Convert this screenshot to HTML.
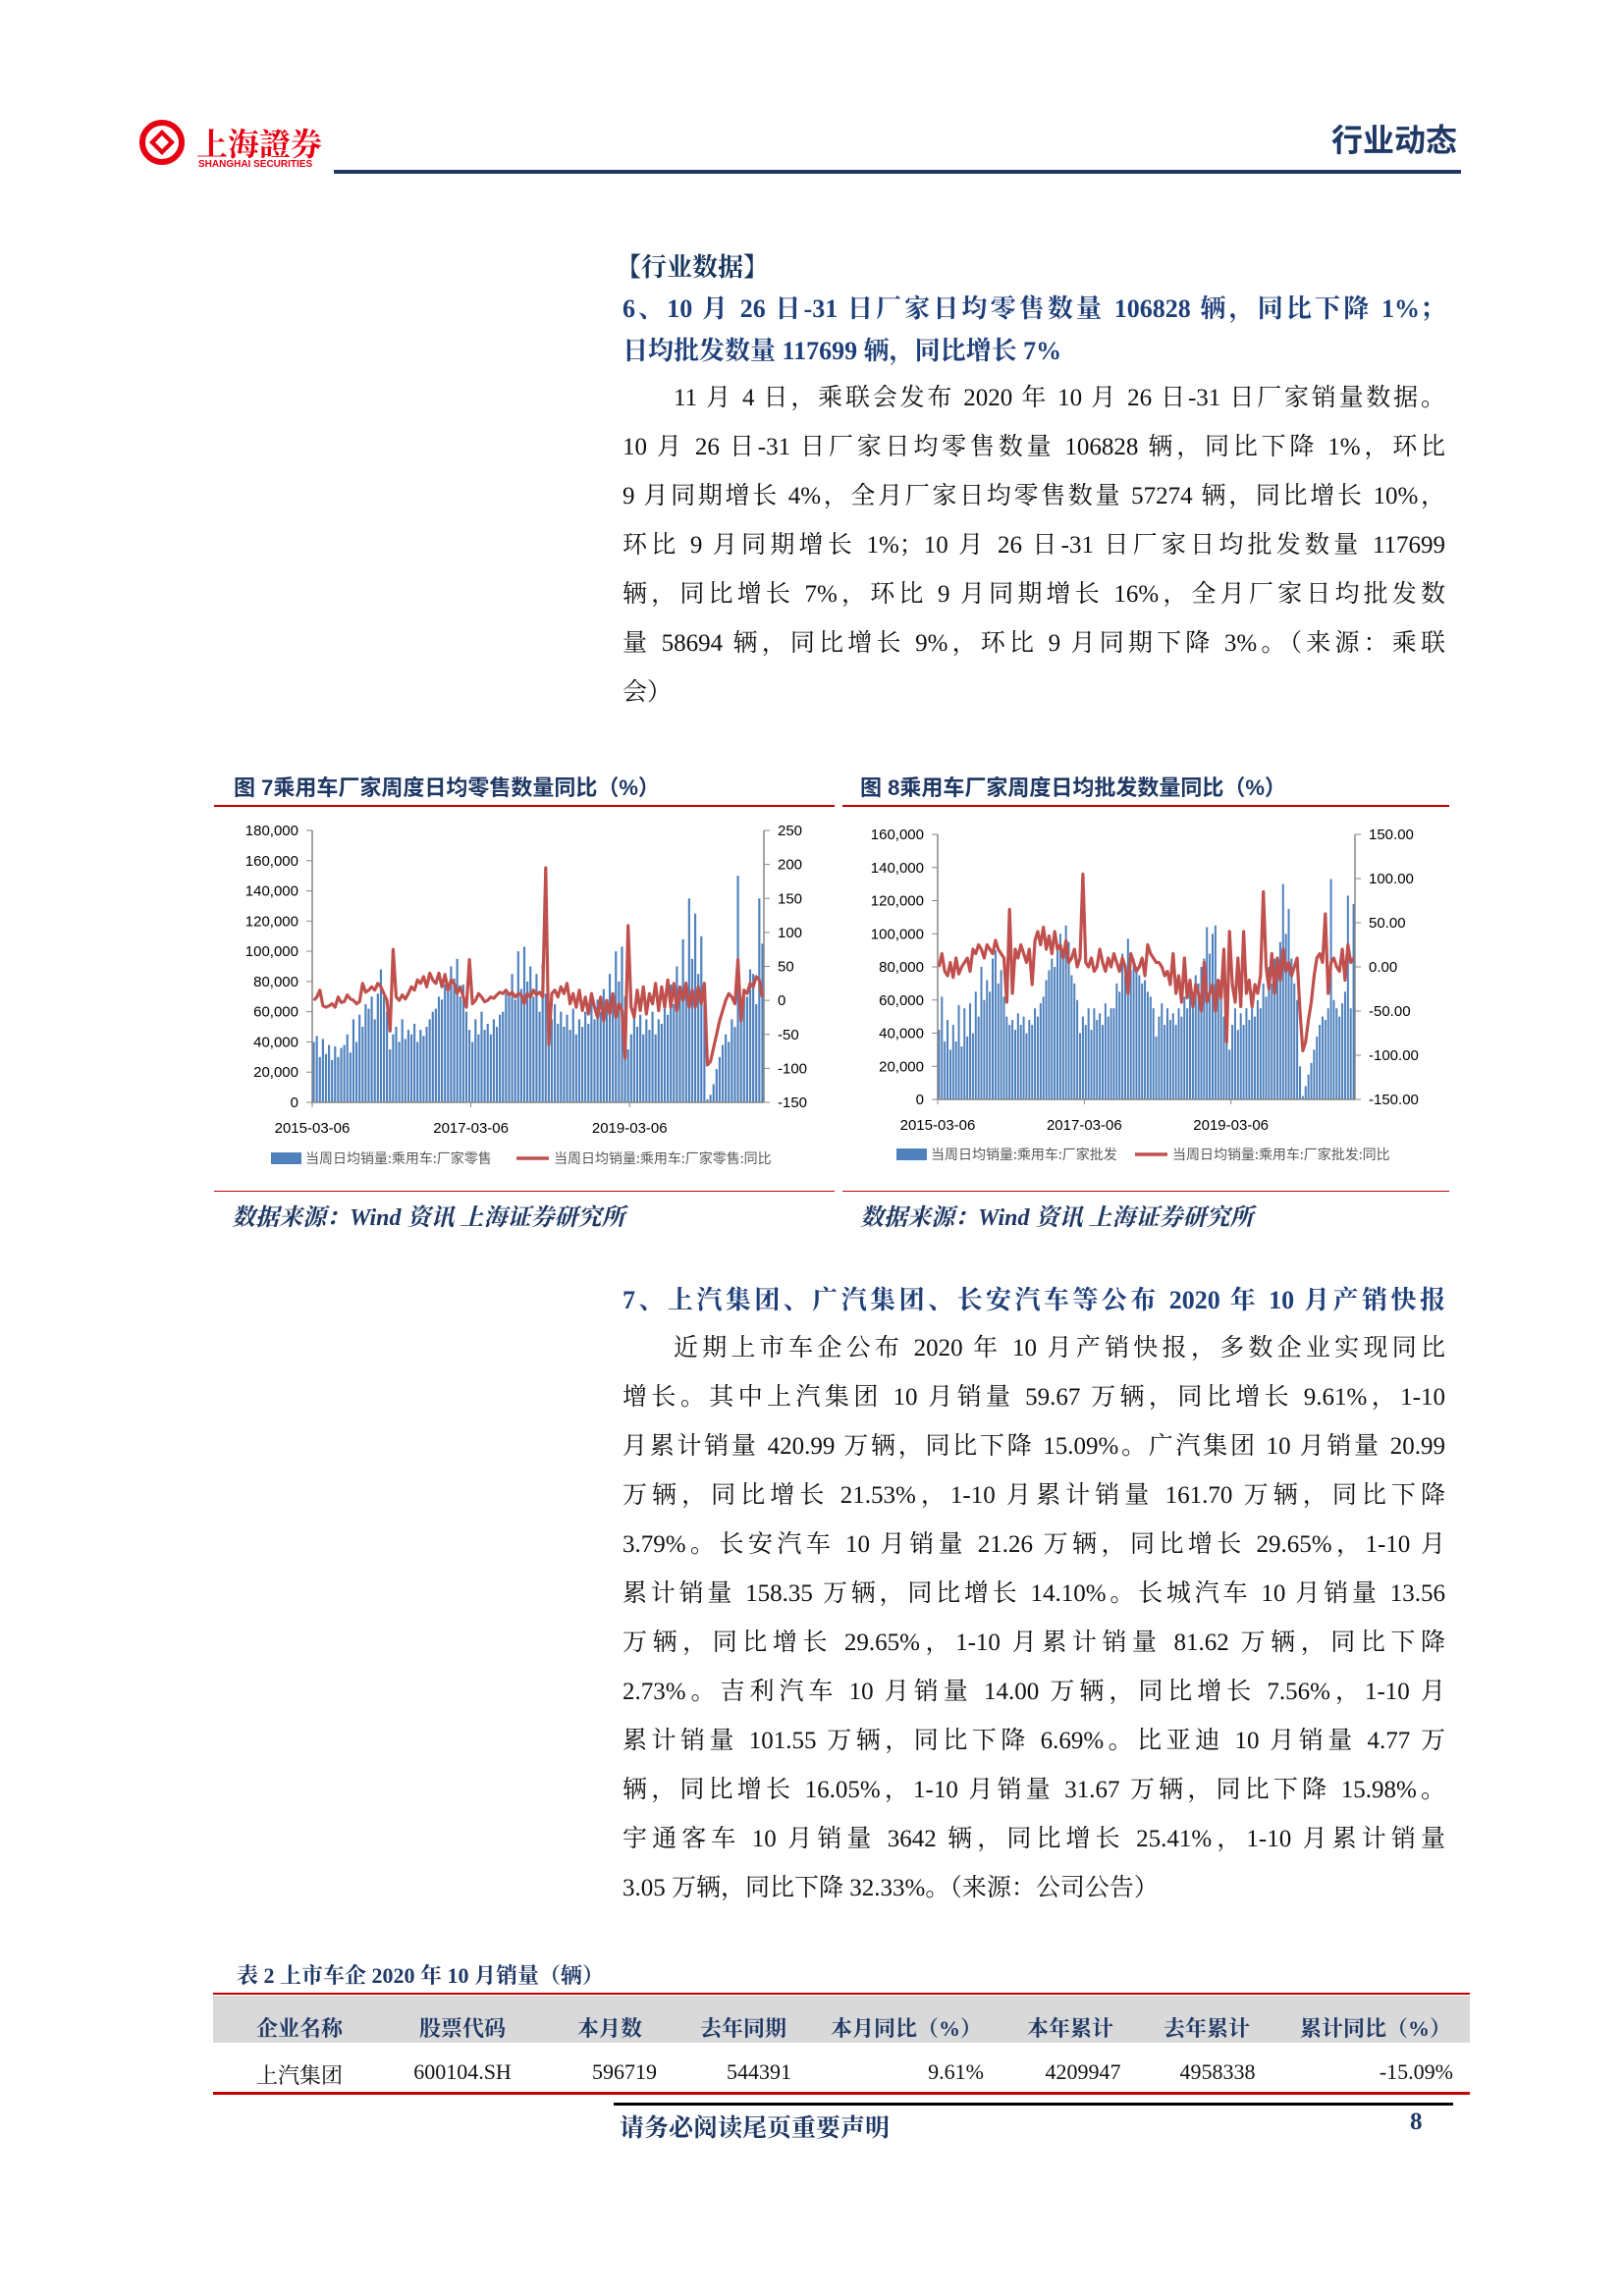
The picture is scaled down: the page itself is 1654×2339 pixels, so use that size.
<!DOCTYPE html>
<html><head><meta charset="utf-8">
<style>
body{margin:0;width:1654px;height:2339px;background:#fff;position:relative;overflow:hidden;font-family:"Liberation Serif","Noto Serif CJK SC",serif;}
.a{position:absolute;white-space:nowrap;}
.blue{color:#1f3b73;}
.body{position:absolute;left:634px;width:838px;font-size:25px;color:#111;line-height:50px;}
.ln{text-align:justify;text-align-last:justify;white-space:nowrap;height:50px;}
.ln.l{text-align-last:left;}
.hd{font-weight:bold;color:#1f3f7a;}
.ct{font-family:"Liberation Sans","Noto Sans CJK SC",sans-serif;font-weight:bold;color:#1f3864;font-size:22px;}
.src{font-weight:bold;font-style:italic;color:#1f3864;font-size:24px;font-family:"Liberation Serif","Noto Serif CJK SC",serif;}
.rl{position:absolute;height:2px;background:#c00000;}
</style></head><body>
<div class="a" style="left:138px;top:118px;width:200px;height:60px;">
<svg width="200" height="60"><circle cx="27" cy="27" r="20" fill="none" stroke="#e60012" stroke-width="6"/><path d="M14 27 L27 14 L40 27 L27 40Z" fill="#e60012"/><path d="M20 27 L27 20 L34 27 L27 34Z" fill="#fff"/></svg>
<div class="a" style="left:62px;top:4px;font-size:32px;font-weight:bold;color:#e60012;font-family:'Noto Serif CJK SC',serif;">上海證券</div>
<div class="a" style="left:64px;top:44px;font-size:10px;font-weight:bold;color:#e60012;font-family:'Liberation Sans',sans-serif;">SHANGHAI SECURITIES</div>
</div>
<div class="a blue" style="right:170px;top:118px;font-size:32px;font-weight:bold;color:#1f3864;font-family:'Noto Sans CJK SC',sans-serif;">行业动态</div>
<div class="a" style="left:340px;top:173px;width:1148px;height:4px;background:#1f3864;"></div>

<div class="a hd" style="left:627px;top:252px;font-size:26px;color:#17365d;">【行业数据】</div>
<div class="body" style="top:290px;font-size:26px;">
<div class="ln hd">6、10 月 26 日-31 日厂家日均零售数量 106828 辆，同比下降 1%；</div>
<div class="ln hd l" style="margin-top:-7px;">日均批发数量 117699 辆，同比增长 7%</div>
</div>
<div class="body" style="top:381px;">
<div class="ln" style="padding-left:52px;">11 月 4 日，乘联会发布 2020 年 10 月 26 日-31 日厂家销量数据。</div>
<div class="ln">10 月 26 日-31 日厂家日均零售数量 106828 辆，同比下降 1%，环比</div>
<div class="ln">9 月同期增长 4%，全月厂家日均零售数量 57274 辆，同比增长 10%，</div>
<div class="ln">环比 9 月同期增长 1%；10 月 26 日-31 日厂家日均批发数量 117699</div>
<div class="ln">辆，同比增长 7%，环比 9 月同期增长 16%，全月厂家日均批发数</div>
<div class="ln">量 58694 辆，同比增长 9%，环比 9 月同期下降 3%。（来源：乘联</div>
<div class="ln l">会）</div>
</div>

<div class="a ct" style="left:238px;top:785px;">图 7乘用车厂家周度日均零售数量同比（%）</div>
<div class="a ct" style="left:876px;top:785px;">图 8乘用车厂家周度日均批发数量同比（%）</div>
<div class="rl" style="left:218px;top:820px;width:632px;"></div>
<div class="rl" style="left:858px;top:820px;width:618px;"></div>
<div class="rl" style="left:218px;top:1213px;width:632px;height:1px;"></div>
<div class="rl" style="left:858px;top:1213px;width:618px;height:1px;"></div>
<div class="a src" style="left:236px;top:1220px;">数据来源：Wind 资讯 上海证券研究所</div>
<div class="a src" style="left:876px;top:1220px;">数据来源：Wind 资讯 上海证券研究所</div>

<svg id="chart1" class="a" style="left:218px;top:830px;" width="640" height="380"></svg>
<svg id="chart2" class="a" style="left:865px;top:830px;" width="625" height="380"></svg>

<div class="body" style="top:1300px;font-size:26px;">
<div class="ln hd">7、上汽集团、广汽集团、长安汽车等公布 2020 年 10 月产销快报</div>
</div>
<div class="body" style="top:1349px;">
<div class="ln" style="padding-left:52px;">近期上市车企公布 2020 年 10 月产销快报，多数企业实现同比</div>
<div class="ln">增长。其中上汽集团 10 月销量 59.67 万辆，同比增长 9.61%，1-10</div>
<div class="ln">月累计销量 420.99 万辆，同比下降 15.09%。广汽集团 10 月销量 20.99</div>
<div class="ln">万辆，同比增长 21.53%，1-10 月累计销量 161.70 万辆，同比下降</div>
<div class="ln">3.79%。长安汽车 10 月销量 21.26 万辆，同比增长 29.65%，1-10 月</div>
<div class="ln">累计销量 158.35 万辆，同比增长 14.10%。长城汽车 10 月销量 13.56</div>
<div class="ln">万辆，同比增长 29.65%，1-10 月累计销量 81.62 万辆，同比下降</div>
<div class="ln">2.73%。吉利汽车 10 月销量 14.00 万辆，同比增长 7.56%，1-10 月</div>
<div class="ln">累计销量 101.55 万辆，同比下降 6.69%。比亚迪 10 月销量 4.77 万</div>
<div class="ln">辆，同比增长 16.05%，1-10 月销量 31.67 万辆，同比下降 15.98%。</div>
<div class="ln">宇通客车 10 月销量 3642 辆，同比增长 25.41%，1-10 月累计销量</div>
<div class="ln l">3.05 万辆，同比下降 32.33%。（来源：公司公告）</div>
</div>

<div class="a ct" style="left:241px;top:1996px;font-family:'Liberation Serif','Noto Serif CJK SC',serif;">表 2 上市车企 2020 年 10 月销量（辆）</div>
<div class="a" style="left:217px;top:2030px;width:1280px;height:2px;background:#c00000;"></div>
<div class="a" style="left:217px;top:2033px;width:1280px;height:48px;background:#d9d9d9;"></div>
<div style="font-weight:bold;color:#1f3864;font-size:22px;">
<div class="a" style="left:255px;top:2050px;width:100px;text-align:center;">企业名称</div>
<div class="a" style="left:421px;top:2050px;width:100px;text-align:center;">股票代码</div>
<div class="a" style="left:571px;top:2050px;width:100px;text-align:center;">本月数</div>
<div class="a" style="left:707px;top:2050px;width:100px;text-align:center;">去年同期</div>
<div class="a" style="left:846px;top:2050px;width:140px;text-align:center;">本月同比（%）</div>
<div class="a" style="left:1040px;top:2050px;width:100px;text-align:center;">本年累计</div>
<div class="a" style="left:1179px;top:2050px;width:100px;text-align:center;">去年累计</div>
<div class="a" style="left:1324px;top:2050px;width:140px;text-align:center;">累计同比（%）</div>
</div>
<div style="font-size:22px;color:#111;">
<div class="a" style="left:255px;top:2098px;width:100px;text-align:center;">上汽集团</div>
<div class="a" style="left:411px;top:2098px;width:120px;text-align:center;">600104.SH</div>
<div class="a" style="left:586px;top:2098px;width:100px;text-align:center;">596719</div>
<div class="a" style="left:723px;top:2098px;width:100px;text-align:center;">544391</div>
<div class="a" style="left:902px;top:2098px;width:100px;text-align:right;">9.61%</div>
<div class="a" style="left:1053px;top:2098px;width:100px;text-align:center;">4209947</div>
<div class="a" style="left:1190px;top:2098px;width:100px;text-align:center;">4958338</div>
<div class="a" style="left:1380px;top:2098px;width:100px;text-align:right;">-15.09%</div>
</div>
<div class="a" style="left:217px;top:2131px;width:1280px;height:3px;background:#c00000;"></div>
<div class="a" style="left:625px;top:2142px;width:855px;height:3px;background:#000;"></div>
<div class="a" style="left:631px;top:2148px;font-size:25px;font-weight:bold;color:#1f3864;">请务必阅读尾页重要声明</div>
<div class="a" style="left:1436px;top:2148px;font-size:25px;font-weight:bold;color:#1f3864;">8</div>

<script>
const dateLabels = ["2015-03-06","2017-03-06","2019-03-06"];
const dateIdx = [0,52,104];
const leftTicks1 = [0,20000,40000,60000,80000,100000,120000,140000,160000,180000];
const rightTicks1 = [-150,-100,-50,0,50,100,150,200,250];
const leftTicks2 = [0,20000,40000,60000,80000,100000,120000,140000,160000];
const rightTicks2 = [-150,-100,-50,0,50,100,150];
const retailK = [40,44,30,42,32,38,28,37,30,36,38,45,33,55,40,58,50,65,62,70,55,72,88,70,60,35,
45,50,40,55,42,48,45,52,40,48,44,50,55,60,62,70,68,78,74,90,82,95,70,78,60,48,
40,55,45,60,48,52,45,55,50,58,60,72,70,85,68,100,75,103,80,90,70,85,60,92,72,40,
55,65,52,60,50,58,48,62,45,55,50,60,52,70,55,68,60,75,65,85,70,100,80,103,70,35,
45,62,50,58,45,55,48,60,45,55,52,62,58,78,65,90,70,108,80,135,95,125,85,110,65,2,
5,12,22,30,38,45,40,55,50,150,60,75,70,88,85,65,135,105];
const retailYoY = [0,5,15,-8,-10,-8,-5,-10,5,-3,-2,8,2,0,-5,-2,25,12,15,20,15,25,20,10,0,-45,
75,5,0,8,2,10,20,15,30,25,35,20,40,30,25,40,20,38,15,30,25,10,20,5,-10,60,
-5,0,10,5,-2,0,5,3,8,12,10,15,8,12,5,10,8,-5,10,5,15,8,12,5,195,-65,
10,15,5,20,10,25,-5,10,-10,15,-15,5,-20,10,-10,-25,5,-30,0,-20,10,-25,-5,-15,-85,110,
-10,-25,15,-15,20,-20,10,-5,25,-15,20,-10,30,-10,25,-15,20,0,25,-10,15,-10,20,-5,25,-95,
-90,-70,-50,-30,-15,0,10,5,-5,60,-30,15,10,25,20,35,30,5];
const wholesaleK = [42,62,35,48,30,45,35,57,32,55,38,58,40,65,50,80,60,72,65,85,90,70,78,62,50,45,
48,42,52,45,50,40,48,45,55,50,58,62,72,78,85,80,90,100,88,105,95,75,70,60,40,50,
45,55,42,55,48,52,45,58,50,55,55,70,65,88,75,97,78,85,80,75,70,72,65,62,55,38,
50,58,45,55,48,52,45,55,50,62,55,65,60,75,70,80,85,104,88,100,105,65,72,50,40,30,
45,55,42,52,45,55,48,58,50,60,55,70,62,80,70,85,78,95,130,100,115,85,70,60,20,2,
8,15,22,30,38,45,50,48,55,133,60,55,50,58,65,123,55,118];
const wholesaleYoY = [0,15,-5,-10,5,-12,10,-8,0,5,10,-5,20,15,25,20,10,25,20,15,30,20,15,10,-40,65,
-30,20,10,25,15,5,20,-20,30,40,25,45,20,35,15,40,20,25,10,30,5,10,20,0,10,105,
5,0,10,-5,0,20,5,-5,10,0,15,5,-5,10,0,-30,15,5,-5,0,10,-10,25,15,10,5,
5,0,-10,-5,-20,15,-30,-10,-40,10,-35,-15,-45,-20,-30,-50,5,-40,-30,-20,-50,-15,-35,20,-85,40,
-20,-40,10,-45,40,-30,-15,-45,-20,-30,-10,85,0,-25,15,-30,10,-15,20,-5,5,-10,0,10,-50,-95,
-85,-60,-40,-10,10,15,5,60,-30,5,10,0,-5,20,-15,25,5,10];

const NS="http://www.w3.org/2000/svg";
function mk(tag,attrs,parent){const e=document.createElementNS(NS,tag);for(const k in attrs)e.setAttribute(k,attrs[k]);parent.appendChild(e);return e;}
function fmt(v){return v.toString().replace(/\B(?=(\d{3})+(?!\d))/g,",");}
function draw(svg,c){
  const L=c.L,R=c.R,T=c.T,B=c.B;
  const n=c.bars.length, step=(R-L)/n;
  const yl=v=>B-(v/c.lmax)*(B-T);
  const yr=v=>B-((v-c.rmin)/(c.rmax-c.rmin))*(B-T);
  const xi=i=>L+(i+0.5)*step;
  const f="font-family:'Liberation Sans',sans-serif;font-size:15px;fill:#000";
  c.lt.forEach(v=>{
    const y=yl(v);
    const t=mk("line",{x1:L-6,x2:L,y1:y,y2:y,stroke:"#868686"},svg);
    
    
    const tx=mk("text",{x:L-14,y:y+5,"text-anchor":"end",style:f},svg);
    tx.textContent=fmt(v);
    
    
  });
  c.rt.forEach(v=>{
    const y=yr(v);
    const t=mk("line",{x1:R,x2:R+6,y1:y,y2:y,stroke:"#868686"},svg);
    
    
    const tx=mk("text",{x:R+14,y:y+5,style:f},svg);
    tx.textContent=c.rfmt(v);
    
    
  });
  c.bars.forEach((v,i)=>{
    const y=yl(v*1000);
    const r=mk("rect",{x:xi(i)-step*0.35,y:y,width:step*0.7,height:B-y,fill:"#4f81bd"},svg);
    
    
  });
  const ax=mk("path",{d:`M${L} ${T} V${B} H${R} M${R} ${T} V${B}`,stroke:"#868686",fill:"none","stroke-width":1.5},svg);
  
  
  dateIdx.forEach((d,k)=>{
    const x=L+d*step;
    const t=mk("line",{x1:x,x2:x,y1:B,y2:B+5,stroke:"#868686"},svg);
    
    
    const tx=mk("text",{x:x,y:B+31,"text-anchor":"middle",style:f},svg);
    tx.textContent=dateLabels[k];
    
    
  });
  const pts=c.line.map((v,i)=>`${xi(i).toFixed(1)},${yr(v).toFixed(1)}`).join(" ");
  const pl=mk("polyline",{points:pts,fill:"none",stroke:"#c0504d","stroke-width":3.2,"stroke-linejoin":"round"},svg);
  
  
  const lf="font-family:'Noto Sans CJK SC',sans-serif;font-size:14px;fill:#595959";
  const lb=mk("rect",{x:c.lg[0],y:c.ly-6,width:31,height:12,fill:"#4f81bd"},svg);
  
  
  const lt1=mk("text",{x:c.lg[0]+35,y:c.ly+5,style:lf},svg);
  lt1.textContent=c.n1;
  
  
  const ll=mk("line",{x1:c.lg[1],x2:c.lg[1]+33,y1:c.ly,y2:c.ly,stroke:"#c0504d","stroke-width":3.5},svg);
  
  
  const lt2=mk("text",{x:c.lg[1]+38,y:c.ly+5,style:lf},svg);
  lt2.textContent=c.n2;
  
  
}
draw(document.getElementById("chart1"),{L:100,R:560,T:16,B:293,lmax:180000,rmin:-150,rmax:250,
  lt:leftTicks1,rt:rightTicks1,rfmt:v=>String(v),bars:retailK,line:retailYoY,ly:350,lg:[58,308],
  n1:"当周日均销量:乘用车:厂家零售",n2:"当周日均销量:乘用车:厂家零售:同比"});
draw(document.getElementById("chart2"),{L:90,R:515,T:20,B:290,lmax:160000,rmin:-150,rmax:150,
  lt:leftTicks2,rt:rightTicks2,rfmt:v=>v.toFixed(2),bars:wholesaleK,line:wholesaleYoY,ly:346,lg:[48,291],
  n1:"当周日均销量:乘用车:厂家批发",n2:"当周日均销量:乘用车:厂家批发:同比"});
</script>
</body></html>
